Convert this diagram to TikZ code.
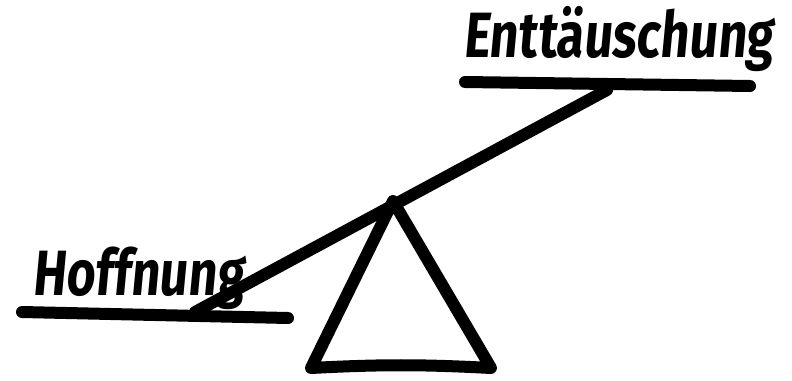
\documentclass[tikz,border=0pt]{standalone}
\usepackage{fontspec}
\newfontfamily\marker[FakeSlant=0.12]{Fira Sans}
\usepackage{tikz}
\usetikzlibrary{positioning}
\tikzset{
    stift/.style={
        line width=12pt,
        line cap=round,
        line join=round
    },
    wort/.style={
        font=\marker\bfseries\fontsize{64}{64}\selectfont,
        inner sep=0pt,
        anchor=base west,
        xscale=0.78
    }
}

\begin{document}
\begin{tikzpicture}[
    x=1pt,
    y=-1pt
]
    \useasboundingbox (0,0) rectangle (792,380);

    % Beschriftungen
    \node[wort] (hoffnung)      at (32,295) {Hoffnung};
    \node[wort] (enttaeuschung) at (463,57) {Enttäuschung};

    % Punkte
    \coordinate (strichL1) at (22,312);
    \coordinate (strichL2) at (288,318);
    \coordinate (strichR1) at (465,82);
    \coordinate (strichR2) at (750,86);
    \coordinate (balkenL)  at (195,312);
    \coordinate (balkenR)  at (607,90);
    \coordinate (spitze)   at (393,201);
    \coordinate (fussL)    at (311,368);
    \coordinate (fussR)    at (491,368);

    % Wippe
    \draw[stift] (strichL1) -- (strichL2);
    \draw[stift] (strichR1) -- (strichR2);
    \draw[stift] (balkenL) -- (balkenR);
    \draw[stift]
        (spitze) -- (fussL)
        to[bend left=3] (fussR)
        -- cycle;

\end{tikzpicture}
\end{document}
